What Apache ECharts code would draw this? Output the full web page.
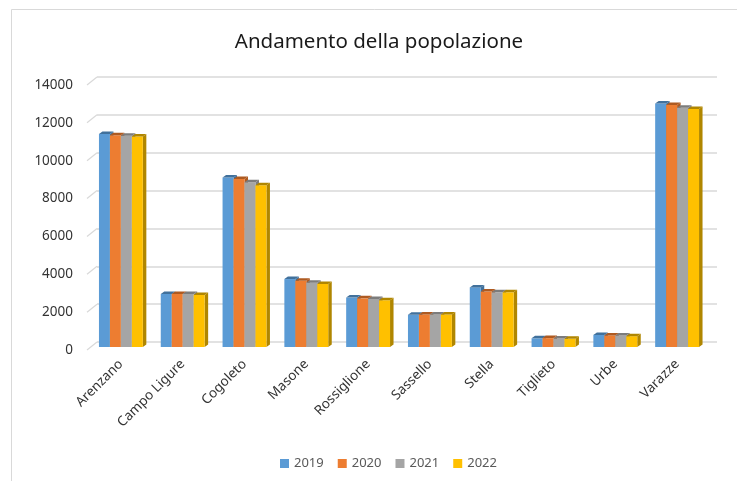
<!DOCTYPE html>
<html>
<head>
<meta charset="utf-8">
<script src="https://cdn.jsdelivr.net/npm/echarts@6/dist/echarts.min.js"></script>
<style>
  html, body { margin: 0; padding: 0; background: #fff; }
  #chart { width: 737px; height: 481px; }
</style>
</head>
<body>
<div id="chart"></div>
<script>
// Comuni and yearly resident population
const comuni = ['Arenzano', 'Campo Ligure', 'Cogoleto', 'Masone', 'Rossiglione',
                'Sassello', 'Stella', 'Tiglieto', 'Urbe', 'Varazze'];
const anni = ['2019', '2020', '2021', '2022'];
const pop2019 = [11250, 2800, 8960, 3590, 2610, 1700, 3150, 460, 640, 12870];
const pop2020 = [11190, 2800, 8870, 3500, 2570, 1720, 2930, 470, 610, 12780];
const pop2021 = [11160, 2800, 8700, 3400, 2540, 1720, 2890, 450, 610, 12640];
const pop2022 = [11120, 2750, 8550, 3330, 2470, 1720, 2890, 430, 570, 12570];
const yTicks = [0, 2000, 4000, 6000, 8000, 10000, 12000, 14000];

const serie = [pop2019, pop2020, pop2021, pop2022];
const facce = ['#5b9bd5', '#ed7d31', '#a5a5a5', '#ffc000'];
const ombre = ['#41719c', '#ae5a21', '#7c7c7c', '#b08600'];

const DX = 3.5, DY = 2.5;   // depth offset of the 3D prism faces
const FONT = 'Noto Sans';

// Draws one 3D column: front face, right side and top
function colonna(k) {
  return function (params, api) {
    const cat = api.value(0);
    const top = api.coord([cat, api.value(1)]);
    const base = api.coord([cat, 0]);
    const band = api.size([1, 0])[0];
    const w = band * 0.71 / 4;
    const x = top[0] - 2 * w + k * w;
    const y0 = top[1], y1 = base[1];
    return {
      type: 'group',
      children: [
        { type: 'polygon',
          shape: { points: [[x + w, y0], [x + w + DX, y0 - DY], [x + w + DX, y1 - DY], [x + w, y1]] },
          style: { fill: ombre[k] } },
        { type: 'rect', shape: { x: x, y: y0, width: w, height: y1 - y0 },
          style: { fill: facce[k] } },
        { type: 'polygon',
          shape: { points: [[x, y0], [x + DX, y0 - DY], [x + w + DX, y0 - DY], [x + w, y0]] },
          style: { fill: ombre[k] } }
      ]
    };
  };
}

// Short diagonal strokes joining the value labels to the back-wall gridlines
function pareteLaterale(params, api) {
  const y = api.coord([0, api.value(1)])[1];
  const x = params.coordSys.x;
  return {
    type: 'line',
    shape: { x1: x - 10, y1: y + 8, x2: x, y2: y },
    style: { stroke: '#d9d9d9', lineWidth: 1.3 }
  };
}

const valueAxisBase = { type: 'value', min: 0, max: 14000, interval: 2000 };

const option = {
  animation: false,
  backgroundColor: '#ffffff',
  graphic: [
    { type: 'rect', shape: { x: 11.5, y: 9.5, width: 760, height: 500 },
      style: { fill: 'none', stroke: '#d9d9d9', lineWidth: 1 }, z: -10 },
    { type: 'text', x: 379, y: 42,
      style: { text: 'Andamento della popolazione', align: 'center', verticalAlign: 'middle',
               font: '20.5px "' + FONT + '"', fill: '#1a1a1a' } }
  ],
  legend: {
    data: anni,
    left: 275,
    top: 452,
    icon: 'rect',
    itemWidth: 9,
    itemHeight: 9,
    itemGap: 14,
    textStyle: { color: '#595959', fontSize: 13, fontFamily: FONT }
  },
  grid: [
    { left: 90, width: 618, top: 82, height: 265 },
    { left: 87, width: 618, top: 85, height: 265 },
    { left: 97, width: 620, top: 77, height: 265 }
  ],
  xAxis: [
    { type: 'category', data: comuni, gridIndex: 0,
      axisLine: { show: false }, axisTick: { show: false },
      axisLabel: { rotate: 45, color: '#333333', fontSize: 13.5, fontFamily: FONT, margin: 15, interval: 0 } },
    { type: 'category', data: comuni, gridIndex: 1, show: false },
    { type: 'category', data: comuni, gridIndex: 2, show: false }
  ],
  yAxis: [
    Object.assign({ gridIndex: 0, show: false }, valueAxisBase),
    Object.assign({ gridIndex: 1,
      axisLine: { show: false }, axisTick: { show: false }, splitLine: { show: false },
      axisLabel: { color: '#333333', fontSize: 13.5, fontFamily: FONT, margin: 14,
                   formatter: v => String(v) } }, valueAxisBase),
    Object.assign({ gridIndex: 2,
      axisLine: { show: false }, axisTick: { show: false }, axisLabel: { show: false },
      splitLine: { lineStyle: { color: '#d9d9d9', width: 1.5 } } }, valueAxisBase)
  ],
  series: [
    { type: 'custom', xAxisIndex: 2, yAxisIndex: 2, silent: true,
      data: yTicks.map(v => [0, v]), encode: { x: 0, y: 1 },
      renderItem: pareteLaterale, z: 1 }
  ].concat(serie.map((vals, k) => ({
    name: anni[k],
    type: 'custom',
    xAxisIndex: 0, yAxisIndex: 0,
    itemStyle: { color: facce[k] },
    data: vals.map((v, i) => [i, v]),
    encode: { x: 0, y: 1 },
    renderItem: colonna(k),
    z: 2
  })))
};

echarts.init(document.getElementById('chart')).setOption(option);
</script>
</body>
</html>
